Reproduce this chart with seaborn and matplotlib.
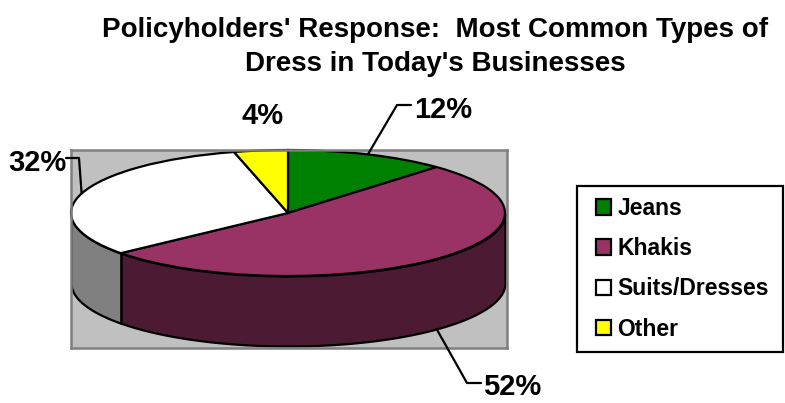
import numpy as np
import matplotlib
matplotlib.use("Agg")
import matplotlib.pyplot as plt
from matplotlib.patches import Rectangle
import seaborn as sns

categories = ["Jeans", "Khakis", "Suits/Dresses", "Other"]
shares = [12, 52, 32, 4]
top_colors = ["#008000", "#993366", "#FFFFFF", "#FFFF00"]
wall_colors = ["#004000", "#4D1A33", "#808080", "#808000"]
title_lines = "Policyholders' Response:  Most Common Types of\nDress in Today's Businesses"

sns.set_theme(style="white")
plt.rcParams["font.family"] = ["Liberation Sans", "DejaVu Sans"]
plt.rcParams["font.weight"] = "bold"

W, H = 785, 403
CX, CY, RX, RY = 288, 213, 217, 63
DEPTH = 70 / RY


def to_data(px, py):
    """Pixel position on the canvas to unit-ellipse coordinates."""
    return (px - CX) / RX, (CY - py) / RY


fig = plt.figure(figsize=(W / 100, H / 100), dpi=100, facecolor="white")
ax = fig.add_axes([71 / W, 1 - 348 / H, 436 / W, 198 / H])

wedges, _ = ax.pie(shares, colors=top_colors, startangle=90, counterclock=False,
                   wedgeprops=dict(edgecolor="black", linewidth=1.6))
ax.set_aspect("auto")
ax.set_frame_on(True)
ax.set_facecolor("#C0C0C0")
x0, y0 = to_data(71, 150)
x1, y1 = to_data(507, 348)
ax.set_xlim(x0, x1)
ax.set_ylim(y1, y0)
for spine in ax.spines.values():
    spine.set_color("#808080")
    spine.set_linewidth(1.8)

# Side wall of the disc: only the front half of the rim is visible.
edges = np.cumsum([0] + shares) / sum(shares) * 360
for start, stop, shade in zip(edges[:-1], edges[1:], wall_colors):
    lo, hi = max(start, 90), min(stop, 270)
    if lo >= hi:
        continue
    theta = np.radians(np.linspace(lo, hi, 120))
    xs, ys = np.sin(theta), np.cos(theta)
    ax.fill_between(xs, ys, ys - DEPTH, facecolor=shade, edgecolor="black",
                    linewidth=1.6, zorder=0.5)

# Percentage labels with elbowed leader lines from the slice midpoints.
mids = np.radians((edges[:-1] + edges[1:]) / 2)
label_font = dict(fontsize=21, fontweight="bold", color="black", ha="center",
                  va="center", clip_on=False, zorder=5)
leaders = {0: [(397, 105), (411, 105)], 1: [(467, 383), (481, 383)],
           2: [(79, 158), (66, 158)]}
label_pos = [(443, 110), (512, 387), (37, 163), (263, 116)]
for i, share in enumerate(shares):
    ax.text(*to_data(*label_pos[i]), f"{share}%", **label_font)
    if i in leaders:
        mx, my = np.sin(mids[i]), np.cos(mids[i])
        if i == 1:
            my -= DEPTH
        pts = [(mx, my)] + [to_data(*p) for p in leaders[i]]
        ax.plot(*zip(*pts), color="black", lw=1.6, clip_on=False, zorder=4)

fig.text(435 / W, 1 - 47 / H, title_lines, fontsize=20, fontweight="bold",
         color="black", ha="center", va="center", linespacing=1.36)

# Legend box drawn separately so its padding can differ per side.
fig.add_artist(Rectangle((577 / W, 1 - 352 / H), 206 / W, 166 / H, transform=fig.transFigure,
                         facecolor="white", edgecolor="black", linewidth=1.6, zorder=-1))
leg = ax.legend(wedges, categories, loc="upper left",
                bbox_to_anchor=(596 / W, 1 - 197 / H), bbox_transform=fig.transFigure,
                fontsize=16.5, labelcolor="black", frameon=False, borderpad=0,
                labelspacing=0.75, handlelength=0.66, handleheight=0.66,
                handletextpad=0.28, borderaxespad=0)
leg.set_zorder(10)

fig.savefig("out.png", dpi=100)
